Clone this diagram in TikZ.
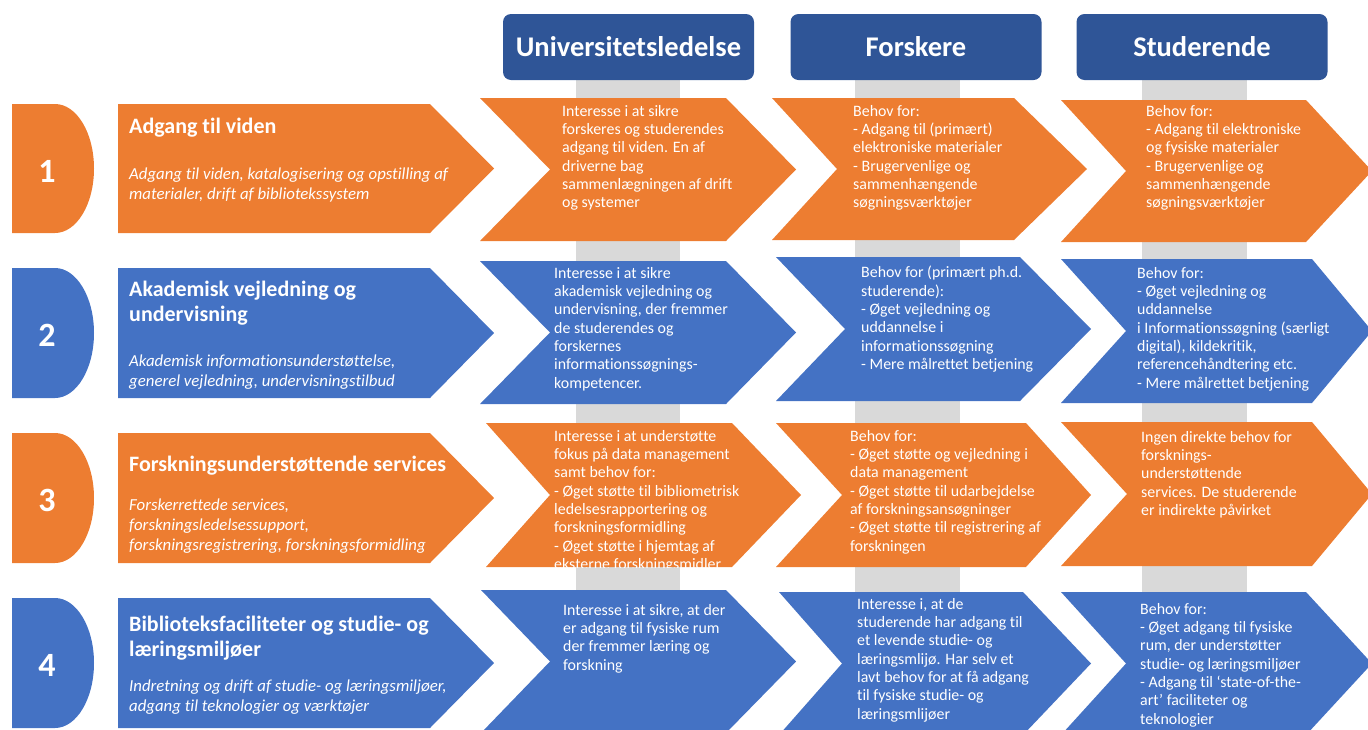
\documentclass[tikz,border=0pt]{standalone}
\usepackage{fontspec}
\setmainfont{Carlito}[Ligatures={TeX,NoCommon}]
\definecolor{orng}{HTML}{ED7D31}
\definecolor{blu}{HTML}{4472C4}
\definecolor{hdr}{HTML}{2F5597}
\definecolor{gry}{HTML}{D9D9D9}
% chevron path: left, notch, top-right corner, tip, top, bottom
\newcommand\chevpath[6]{(#1,#5) -- (#3,#5) -- (#4,{(#5+#6)/2}) -- (#3,#6) -- (#1,#6) -- (#2,{(#5+#6)/2}) -- cycle}
\newcommand\mychev[7]{\fill[#1] \chevpath{#2}{#3}{#4}{#5}{#6}{#7};}
% D-shape: colour, top, bottom
\newcommand\mydee[3]{\fill[#1] (12,#2) -- (55,#2) .. controls (76.5,#2) and (94,{(#2+#3)/2-36}) .. (94,{(#2+#3)/2}) .. controls (94,{(#2+#3)/2+36}) and (76.5,#3) .. (55,#3) -- (12,#3) -- cycle;}
% label arrow: colour, top, bottom
\newcommand\mylab[3]{\fill[#1] (118,#2) -- (430,#2) -- (494,{(#2+#3)/2}) -- (430,#3) -- (118,#3) -- cycle;}
\begin{document}
\begin{tikzpicture}[x=1pt,y=-1pt,
  txt/.style={anchor=north west, inner sep=0pt, text=white, align=left, font=\fontsize{15.9}{18.3}\selectfont},
  ttl/.style={anchor=north west, inner sep=0pt, text=white, align=left, font=\bfseries\fontsize{22}{25}\selectfont},
  sub/.style={anchor=north west, inner sep=0pt, text=white, align=left, font=\itshape\fontsize{16.8}{19.8}\selectfont},
  num/.style={inner sep=0pt, text=white, font=\bfseries\fontsize{34}{34}\selectfont},
  head/.style={fill=hdr, rounded corners=8pt, text=white, inner sep=0pt, minimum width=251pt, minimum height=66pt, font=\bfseries\fontsize{28.5}{32}\selectfont}]
\useasboundingbox (0,0) rectangle (1368,729);
% gray bars
\fill[gry] (576,80) rectangle (680,729);
\fill[gry] (855,80) rectangle (960,729);
\fill[gry] (1142,80) rectangle (1247,729);
% headers
\node[head] (h1) at (628.5,47) {Universitetsledelse};
\node[head] (h2) at (916,47) {Forskere};
\node[head] (h3) at (1202,47) {Studerende};
% left column
\mydee{orng}{104}{233}
\mydee{blu}{268}{398}
\mydee{orng}{433}{563}
\mydee{blu}{598}{728}
\mylab{orng}{104}{233}
\mylab{blu}{268}{398}
\mylab{orng}{433}{563}
\mylab{blu}{598}{728}
\node[num] (n1) at (47,171) {1};
\node[num] (n2) at (47,335) {2};
\node[num] (n3) at (47,500) {3};
\node[num] (n4) at (47,665) {4};
\node[ttl] (t1) at (129,118) {Adgang til viden};
\node[sub] (s1) at (129,168) {Adgang til viden, katalogisering og opstilling af\\materialer, drift af bibliotekssystem};
\node[ttl] (t2) at (129,281) {Akademisk vejledning og\\undervisning};
\node[sub] (s2) at (129,355) {Akademisk informationsunderstøttelse,\\generel vejledning, undervisningstilbud};
\node[ttl] (t3) at (129,456) {Forskningsunderstøttende services};
\node[sub] (s3) at (129,499) {Forskerrettede services,\\forskningsledelsessupport,\\forskningsregistrering, forskningsformidling};
\node[ttl] (t4) at (129,616) {Biblioteksfaciliteter og studie- og\\læringsmiljøer};
\node[sub] (s4) at (129,680) {Indretning og drift af studie- og læringsmiljøer,\\adgang til teknologier og værktøjer};
% chevrons
\mychev{orng}{480}{550}{726}{796}{98}{241}
\mychev{orng}{772}{837}{1014}{1087}{98}{240}
\mychev{orng}{1061}{1126}{1306}{1372}{100}{242}
\mychev{blu}{480}{550}{726}{796}{261}{404}
\mychev{blu}{776}{845}{1020}{1091}{257}{401}
\mychev{blu}{1061}{1126}{1312}{1372}{259}{403}
\mychev{orng}{486}{550}{732}{801}{423}{567}
\mychev{orng}{776}{842}{1026}{1091}{423}{567}
\mychev{orng}{1061}{1127}{1312}{1372}{422}{566}
\mychev{blu}{481}{550}{726}{796}{590}{733}
\mychev{blu}{779}{842}{1023}{1091}{592}{735}
\mychev{blu}{1061}{1126}{1306}{1372}{592}{735}
% chevron texts
\node[txt] (a1) at (562,105) {Interesse i at sikre\\forskeres og studerendes\\adgang til viden. En af\\driverne bag\\sammenlægningen af drift\\og systemer};
\node[txt] (b1) at (853,105) {Behov for:\\- Adgang til (primært)\\elektroniske materialer\\- Brugervenlige og\\sammenhængende\\søgningsværktøjer};
\node[txt] (c1) at (1146,105) {Behov for:\\- Adgang til elektroniske\\og fysiske materialer\\- Brugervenlige og\\sammenhængende\\søgningsværktøjer};
\node[txt] (a2) at (554,267) {Interesse i at sikre\\akademisk vejledning og\\undervisning, der fremmer\\de studerendes og\\forskernes\\informationssøgnings-\\kompetencer.};
\node[txt] (b2) at (861,266) {Behov for (primært ph.d.\\studerende):\\- Øget vejledning og\\uddannelse i\\informationssøgning\\- Mere målrettet betjening};
\node[txt] (c2) at (1137,267) {Behov for:\\- Øget vejledning og\\uddannelse\\i Informationssøgning (særligt\\digital), kildekritik,\\referencehåndtering etc.\\- Mere målrettet betjening};
\begin{scope}
\clip \chevpath{486}{550}{732}{801}{423}{567};
\node[txt] (a3) at (554,430) {Interesse i at understøtte\\fokus på data management\\samt behov for:\\- Øget støtte til bibliometrisk\\ledelsesrapportering og\\forskningsformidling\\- Øget støtte i hjemtag af\\eksterne forskningsmidler};
\end{scope}
\node[txt] (b3) at (850,430) {Behov for:\\- Øget støtte og vejledning i\\data management\\- Øget støtte til udarbejdelse\\af forskningsansøgninger\\- Øget støtte til registrering af\\forskningen};
\node[txt] (c3) at (1141,431) {Ingen direkte behov for\\forsknings-\\understøttende\\services. De studerende\\er indirekte påvirket};
\node[txt] (a4) at (563,604) {Interesse i at sikre, at der\\er adgang til fysiske rum\\der fremmer læring og\\forskning};
\node[txt] (b4) at (857,598) {Interesse i, at de\\studerende har adgang til\\et levende studie- og\\læringsmlijø. Har selv et\\lavt behov for at få adgang\\til fysiske studie- og\\læringsmlijøer};
\node[txt] (c4) at (1140,603) {Behov for:\\- Øget adgang til fysiske\\rum, der understøtter\\studie- og læringsmiljøer\\- Adgang til ‘state-of-the-\\art’ faciliteter og\\teknologier};
\end{tikzpicture}
\end{document}
